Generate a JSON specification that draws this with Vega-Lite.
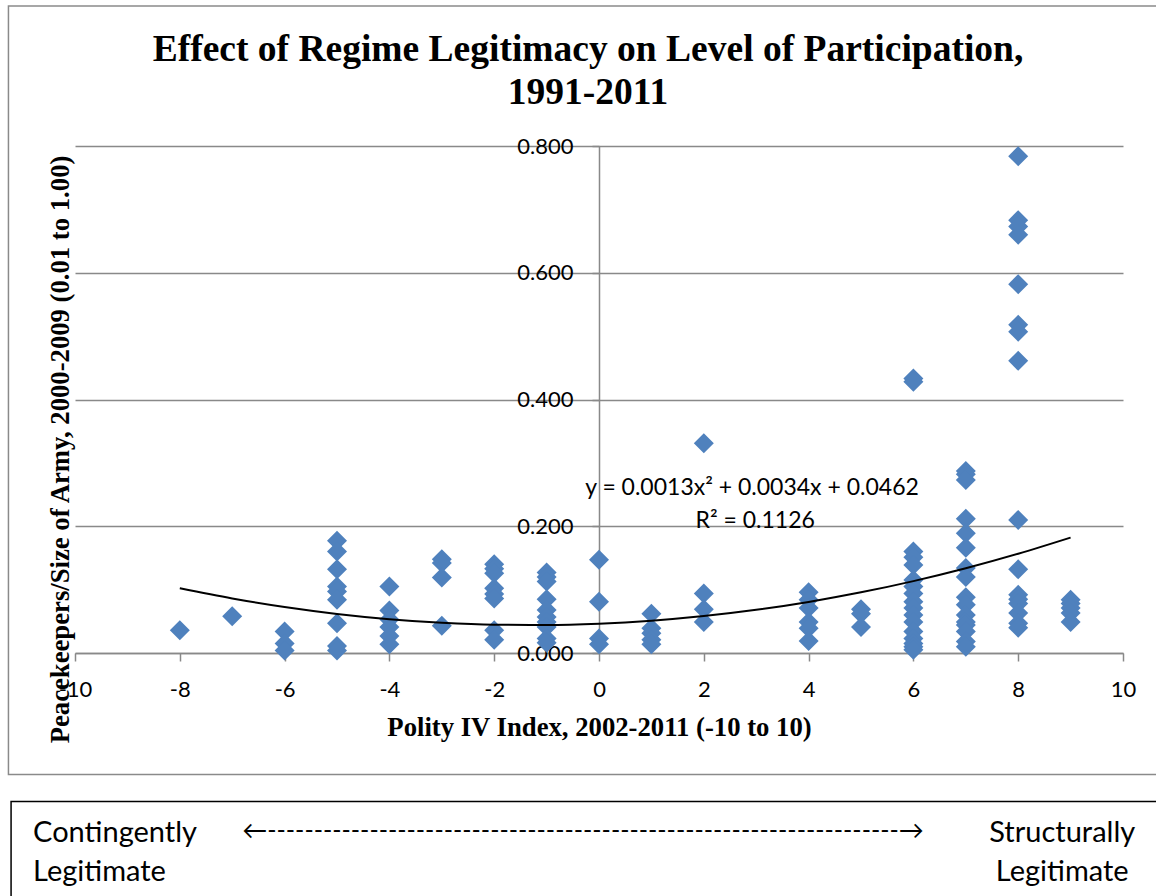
{
  "$schema": "https://vega.github.io/schema/vega-lite/v6.json",
  "width": 1048,
  "height": 507,
  "autosize": {"type": "none"},
  "padding": {"left": 75, "top": 146, "right": 33, "bottom": 243},
  "background": "white",
  "config": {"view": {"stroke": null}},
  "title": {
    "text": ["Effect of Regime Legitimacy on Level of Participation,", "1991-2011"],
    "font": "Liberation Serif",
    "fontSize": 37.5,
    "fontWeight": "bold",
    "color": "black",
    "anchor": "middle",
    "dx": -11,
    "lineHeight": 43,
    "offset": -106
  },
  "datasets": {
    "points": [
      {"polity": -8, "ratio": 0.036},
      {"polity": -7, "ratio": 0.058},
      {"polity": -6, "ratio": 0.034}, {"polity": -6, "ratio": 0.015}, {"polity": -6, "ratio": 0.004},
      {"polity": -5, "ratio": 0.177}, {"polity": -5, "ratio": 0.160}, {"polity": -5, "ratio": 0.132}, {"polity": -5, "ratio": 0.105}, {"polity": -5, "ratio": 0.097}, {"polity": -5, "ratio": 0.084}, {"polity": -5, "ratio": 0.047}, {"polity": -5, "ratio": 0.011}, {"polity": -5, "ratio": 0.004},
      {"polity": -4, "ratio": 0.105}, {"polity": -4, "ratio": 0.067}, {"polity": -4, "ratio": 0.053}, {"polity": -4, "ratio": 0.041}, {"polity": -4, "ratio": 0.027}, {"polity": -4, "ratio": 0.014},
      {"polity": -3, "ratio": 0.148}, {"polity": -3, "ratio": 0.142}, {"polity": -3, "ratio": 0.119}, {"polity": -3, "ratio": 0.043},
      {"polity": -2, "ratio": 0.140}, {"polity": -2, "ratio": 0.133}, {"polity": -2, "ratio": 0.126}, {"polity": -2, "ratio": 0.102}, {"polity": -2, "ratio": 0.093}, {"polity": -2, "ratio": 0.086}, {"polity": -2, "ratio": 0.036}, {"polity": -2, "ratio": 0.021},
      {"polity": -1, "ratio": 0.127}, {"polity": -1, "ratio": 0.120}, {"polity": -1, "ratio": 0.113}, {"polity": -1, "ratio": 0.085}, {"polity": -1, "ratio": 0.068}, {"polity": -1, "ratio": 0.057}, {"polity": -1, "ratio": 0.049}, {"polity": -1, "ratio": 0.041}, {"polity": -1, "ratio": 0.023}, {"polity": -1, "ratio": 0.016},
      {"polity": 0, "ratio": 0.147}, {"polity": 0, "ratio": 0.081}, {"polity": 0, "ratio": 0.023}, {"polity": 0, "ratio": 0.014},
      {"polity": 1, "ratio": 0.062}, {"polity": 1, "ratio": 0.039}, {"polity": 1, "ratio": 0.031}, {"polity": 1, "ratio": 0.021}, {"polity": 1, "ratio": 0.014},
      {"polity": 2, "ratio": 0.331}, {"polity": 2, "ratio": 0.094}, {"polity": 2, "ratio": 0.069}, {"polity": 2, "ratio": 0.049},
      {"polity": 4, "ratio": 0.096}, {"polity": 4, "ratio": 0.084}, {"polity": 4, "ratio": 0.071}, {"polity": 4, "ratio": 0.049}, {"polity": 4, "ratio": 0.039}, {"polity": 4, "ratio": 0.019},
      {"polity": 5, "ratio": 0.069}, {"polity": 5, "ratio": 0.062}, {"polity": 5, "ratio": 0.041},
      {"polity": 6, "ratio": 0.433}, {"polity": 6, "ratio": 0.428}, {"polity": 6, "ratio": 0.160}, {"polity": 6, "ratio": 0.151}, {"polity": 6, "ratio": 0.139}, {"polity": 6, "ratio": 0.115}, {"polity": 6, "ratio": 0.105}, {"polity": 6, "ratio": 0.094}, {"polity": 6, "ratio": 0.081}, {"polity": 6, "ratio": 0.071}, {"polity": 6, "ratio": 0.060}, {"polity": 6, "ratio": 0.049}, {"polity": 6, "ratio": 0.034}, {"polity": 6, "ratio": 0.023}, {"polity": 6, "ratio": 0.015}, {"polity": 6, "ratio": 0.010}, {"polity": 6, "ratio": 0.005},
      {"polity": 7, "ratio": 0.287}, {"polity": 7, "ratio": 0.282}, {"polity": 7, "ratio": 0.273}, {"polity": 7, "ratio": 0.212}, {"polity": 7, "ratio": 0.189}, {"polity": 7, "ratio": 0.166}, {"polity": 7, "ratio": 0.134}, {"polity": 7, "ratio": 0.120}, {"polity": 7, "ratio": 0.088}, {"polity": 7, "ratio": 0.076}, {"polity": 7, "ratio": 0.060}, {"polity": 7, "ratio": 0.049}, {"polity": 7, "ratio": 0.044}, {"polity": 7, "ratio": 0.034}, {"polity": 7, "ratio": 0.018}, {"polity": 7, "ratio": 0.010},
      {"polity": 8, "ratio": 0.784}, {"polity": 8, "ratio": 0.683}, {"polity": 8, "ratio": 0.673}, {"polity": 8, "ratio": 0.660}, {"polity": 8, "ratio": 0.582}, {"polity": 8, "ratio": 0.518}, {"polity": 8, "ratio": 0.507}, {"polity": 8, "ratio": 0.461}, {"polity": 8, "ratio": 0.210}, {"polity": 8, "ratio": 0.132}, {"polity": 8, "ratio": 0.092}, {"polity": 8, "ratio": 0.085}, {"polity": 8, "ratio": 0.078}, {"polity": 8, "ratio": 0.063}, {"polity": 8, "ratio": 0.047}, {"polity": 8, "ratio": 0.040},
      {"polity": 9, "ratio": 0.084}, {"polity": 9, "ratio": 0.078}, {"polity": 9, "ratio": 0.071}, {"polity": 9, "ratio": 0.063}, {"polity": 9, "ratio": 0.049}
    ],
    "trend": [
      {"polity": -8, "fit": 0.1022}, {"polity": -7, "fit": 0.0861}, {"polity": -6, "fit": 0.0726}, {"polity": -5, "fit": 0.0617},
      {"polity": -4, "fit": 0.0534}, {"polity": -3, "fit": 0.0477}, {"polity": -2, "fit": 0.0446}, {"polity": -1, "fit": 0.0441},
      {"polity": 0, "fit": 0.0462}, {"polity": 1, "fit": 0.0509}, {"polity": 2, "fit": 0.0582}, {"polity": 3, "fit": 0.0681},
      {"polity": 4, "fit": 0.0806}, {"polity": 5, "fit": 0.0957}, {"polity": 6, "fit": 0.1134}, {"polity": 7, "fit": 0.1337},
      {"polity": 8, "fit": 0.1566}, {"polity": 9, "fit": 0.1821}
    ],
    "one": [{}]
  },
  "layer": [
    {
      "data": {"name": "one"},
      "mark": {"type": "rect", "fill": "transparent", "stroke": "#8a8a8a", "strokeWidth": 1.5},
      "encoding": {
        "x": {"datum": -11.27, "type": "quantitative", "scale": {"domain": [-10, 10], "nice": false, "zero": false}},
        "x2": {"datum": 10.8},
        "y": {"datum": 1.0209, "type": "quantitative", "scale": {"domain": [0, 0.8], "nice": false}},
        "y2": {"datum": -0.1918}
      }
    },
    {
      "data": {"name": "one"},
      "mark": {"type": "rect", "fill": "transparent", "stroke": "black", "strokeWidth": 1.5},
      "encoding": {
        "x": {"datum": -11.22, "type": "quantitative"},
        "x2": {"datum": 10.8},
        "y": {"datum": -0.2343, "type": "quantitative"},
        "y2": {"datum": -0.40}
      }
    },
    {
      "data": {"name": "points"},
      "mark": {"type": "point", "shape": "diamond", "filled": true, "size": 400, "color": "#4F81BD", "opacity": 1},
      "encoding": {
        "x": {
          "field": "polity", "type": "quantitative",
          "scale": {"domain": [-10, 10], "nice": false, "zero": false},
          "axis": {
            "title": "Polity IV Index, 2002-2011 (-10 to 10)",
            "titleFont": "Liberation Serif", "titleFontSize": 26.7, "titleFontWeight": "bold", "titleColor": "black",
            "titlePadding": 14,
            "values": [-10, -8, -6, -4, -2, 0, 2, 4, 6, 8, 10],
            "labelExpr": "'' + datum.value",
            "labelFont": "Lato", "labelFontSize": 22, "labelColor": "black", "labelPadding": 18,
            "labelFlush": false, "labelOverlap": false,
            "domainColor": "#898989", "domainWidth": 1.5,
            "tickColor": "#898989", "tickWidth": 1.5, "tickSize": 8,
            "grid": false
          }
        },
        "y": {
          "field": "ratio", "type": "quantitative",
          "scale": {"domain": [0, 0.8], "nice": false},
          "axis": {
            "title": "Peacekeepers/Size of Army, 2000-2009 (0.01 to 1.00)",
            "titleFont": "Liberation Serif", "titleFontSize": 26.7, "titleFontWeight": "bold", "titleColor": "black",
            "titleAngle": -90, "titleX": -539, "titleY": 303, "titleAlign": "center", "titleBaseline": "middle",
            "offset": -524,
            "values": [0, 0.2, 0.4, 0.6, 0.8],
            "format": ".3f",
            "labelFont": "Lato", "labelFontSize": 22, "labelColor": "black", "labelPadding": 19,
            "labelFlush": false, "labelOverlap": false,
            "domainColor": "#898989", "domainWidth": 1.5,
            "tickColor": "#898989", "tickWidth": 1.5, "tickSize": 7,
            "grid": true, "gridColor": "#898989", "gridWidth": 1.5
          }
        }
      }
    },
    {
      "data": {"name": "trend"},
      "mark": {"type": "line", "color": "black", "strokeWidth": 2, "interpolate": "monotone"},
      "encoding": {
        "x": {"field": "polity", "type": "quantitative"},
        "y": {"field": "fit", "type": "quantitative"}
      }
    },
    {
      "data": {"name": "one"},
      "mark": {"type": "text", "font": "Lato", "fontSize": 23, "color": "black", "align": "center", "baseline": "middle"},
      "encoding": {
        "x": {"datum": 2.92, "type": "quantitative"},
        "y": {"datum": 0.26, "type": "quantitative"},
        "text": {"value": "y = 0.0013x² + 0.0034x + 0.0462"}
      }
    },
    {
      "data": {"name": "one"},
      "mark": {"type": "text", "font": "Lato", "fontSize": 23, "color": "black", "align": "center", "baseline": "middle"},
      "encoding": {
        "x": {"datum": 2.98, "type": "quantitative"},
        "y": {"datum": 0.208, "type": "quantitative"},
        "text": {"value": "R² = 0.1126"}
      }
    },
    {
      "data": {"name": "one"},
      "mark": {"type": "text", "font": "Lato", "fontSize": 29, "color": "black", "align": "left", "baseline": "middle", "lineHeight": 39},
      "encoding": {
        "x": {"datum": -10.80, "type": "quantitative"},
        "y": {"datum": -0.284, "type": "quantitative"},
        "text": {"value": ["Contingently", "Legitimate"]}
      }
    },
    {
      "data": {"name": "one"},
      "mark": {"type": "text", "font": "Lato", "fontSize": 29, "color": "black", "align": "center", "baseline": "middle", "lineHeight": 39},
      "encoding": {
        "x": {"datum": 8.84, "type": "quantitative"},
        "y": {"datum": -0.284, "type": "quantitative"},
        "text": {"value": ["Structurally", "Legitimate"]}
      }
    },
    {
      "data": {"name": "one"},
      "mark": {"type": "text", "font": "Lato", "fontSize": 25, "color": "black", "align": "center", "baseline": "middle"},
      "encoding": {
        "x": {"datum": -0.305, "type": "quantitative"},
        "y": {"datum": -0.281, "type": "quantitative"},
        "text": {"value": "←--------------------------------------------------------------------→"}
      }
    }
  ]
}
